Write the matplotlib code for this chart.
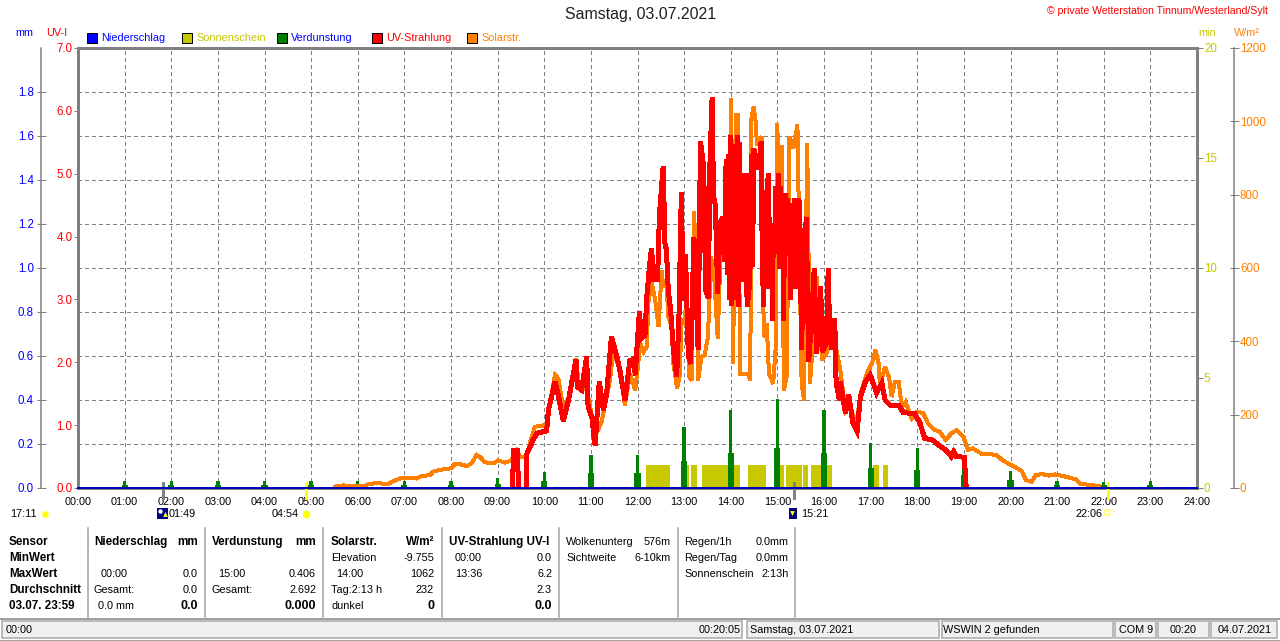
import matplotlib
matplotlib.use("Agg")
import matplotlib.pyplot as plt
from matplotlib.patches import Rectangle

plt.rcParams['font.family'] = ['Liberation Sans', 'DejaVu Sans']

W, H = 1280, 641
GREY = '#808080'
BLUE = '#0000ff'
RED = '#ff0000'
OLIVE = '#c8c800'
GREEN = '#008000'
ORANGE = '#ff8000'
FS = 7.85
FB = 8.3

hour_labels = ['%02d:00' % h for h in range(25)]
mm_ticks = [0, 0.2, 0.4, 0.6, 0.8, 1.0, 1.2, 1.4, 1.6, 1.8]
uv_ticks = [0, 1, 2, 3, 4, 5, 6, 7]
min_ticks = [0, 5, 10, 15, 20]
solar_ticks = [0, 200, 400, 600, 800, 1000, 1200]

# Solarstr. W/m2
solar_t = [5.51, 5.69, 5.90, 6.12, 6.23, 6.41, 6.66, 6.73, 6.91, 7.12, 7.26, 7.37, 7.55, 7.62,
           7.83, 8.01, 8.08, 8.19, 8.34, 8.44, 8.55, 8.62, 8.73, 8.91, 9.01, 9.16, 9.30, 9.34,
           9.41, 9.48, 9.62, 9.69, 9.80, 10.05, 10.12, 10.23, 10.30, 10.41, 10.52, 10.69, 10.73,
           10.91, 10.98, 11.09, 11.23, 11.41, 11.48, 11.62, 11.73, 11.84, 11.95, 12.0, 12.06,
           12.13, 12.2, 12.23, 12.3, 12.38, 12.45, 12.52, 12.55, 12.62, 12.66, 12.73, 12.77,
           12.85, 12.91, 12.94, 13.01, 13.05, 13.11, 13.16, 13.21, 13.26, 13.3, 13.37, 13.44,
           13.51, 13.58, 13.65, 13.72, 13.79, 13.9, 13.94, 14.01, 14.05, 14.11, 14.16, 14.2,
           14.28, 14.37, 14.42, 14.44, 14.49, 14.54, 14.56, 14.67, 14.68, 14.72, 14.77, 14.82,
           14.91, 14.96, 15.0, 15.04, 15.09, 15.14, 15.2, 15.26, 15.34, 15.43, 15.48, 15.52,
           15.57, 15.64, 15.7, 15.77, 15.84, 15.96, 16.05, 16.2, 16.35, 16.46, 16.57, 16.68,
           16.78, 16.92, 17.03, 17.1, 17.17, 17.2, 17.31, 17.4, 17.45, 17.52, 17.6, 17.67, 17.75,
           17.88, 18.0, 18.13, 18.23, 18.38, 18.48, 18.61, 18.73, 18.85, 18.99, 19.09, 19.19,
           19.37, 19.51, 19.69, 19.83, 20.0, 20.11, 20.24, 20.33, 20.45, 20.54, 20.68, 20.82,
           20.96, 21.18, 21.39, 21.5, 21.67, 21.9]
solar_w = [4, 7, 5, 4, 11, 13, 11, 17, 26, 28, 26, 33, 35, 45,
           51, 54, 65, 65, 60, 67, 90, 85, 70, 67, 75, 69, 75, 90,
           102, 85, 85, 122, 167, 172, 231, 308, 299, 217, 245, 353, 285,
           267, 226, 140, 181, 294, 376, 322, 226, 312, 267, 321, 394,
           371, 385, 503, 562, 512, 440, 594, 549, 567, 467, 440, 340,
           271, 312, 458, 449, 521, 303, 294, 753, 630, 294, 358, 362,
           412, 630, 567, 408, 676, 685, 621, 1062, 340, 1017, 1017, 312,
           312, 312, 294, 1003, 1040, 994, 935, 958, 558, 412, 449, 312,
           285, 376, 994, 603, 935, 267, 303, 958, 926, 990, 594, 285,
           240, 940, 285, 412, 576, 349, 367, 420, 322, 208, 226, 163,
           254, 313, 340, 376, 340, 281, 331, 299, 249, 290, 290, 222, 235,
           190, 208, 204, 176, 158, 154, 131, 149, 158, 140, 104, 108,
           94, 93, 90, 76, 63, 56, 47, 22, 17, 35, 38, 34,
           37, 31, 24, 11, 9, 5]

# UV-Strahlung UV-I, nan where the sensor shows nothing
nan = float('nan')
uv_t = [9.32, 9.34, 9.42, 9.45, 9.53, 9.61, 9.63, 9.76, 9.84, 10.05, 10.09, 10.23, 10.3, 10.41, 10.52,
        10.68, 10.71, 10.8, 10.91, 10.94, 11.02, 11.09, 11.18, 11.27, 11.34, 11.44, 11.52, 11.62,
        11.73, 11.84, 11.88, 11.92, 11.95, 12.0, 12.04, 12.09, 12.16, 12.2, 12.26, 12.3, 12.35,
        12.43, 12.47, 12.52, 12.55, 12.59, 12.62, 12.66, 12.71, 12.77, 12.84, 12.89, 12.94, 12.98,
        13.03, 13.09, 13.14, 13.21, 13.3, 13.35, 13.42, 13.46, 13.52, 13.55, 13.6, 13.63, 13.67,
        13.72, 13.77, 13.83, 13.87,
        13.90, 13.93, 13.95, 13.97, 14.0, 14.02, 14.05, 14.07, 14.1, 14.12, 14.15, 14.17, 14.19, 14.21,
        14.23, 14.26, 14.28, 14.31, 14.33, 14.35, 14.37, 14.39, 14.41, 14.43, 14.45, 14.47, 14.49,
        14.54, 14.6, 14.65, 14.67, 14.70, 14.72, 14.74, 14.76, 14.78, 14.8, 14.82, 14.84, 14.86,
        14.88, 14.89, 14.91, 14.94, 14.96, 14.98, 15.02, 15.04, 15.06, 15.08, 15.11, 15.13, 15.15,
        15.18, 15.2, 15.22, 15.24, 15.27, 15.28, 15.3, 15.32, 15.34, 15.36, 15.39, 15.41, 15.43,
        15.46, 15.48, 15.5, 15.52, 15.54, 15.57,
        15.62, 15.67, 15.73, 15.79, 15.84, 15.93, 15.96,
        16.05, 16.09, 16.12, 16.17, 16.23, 16.26, 16.33, 16.35, 16.46, 16.53, 16.62, 16.71, 16.78,
        16.89, 16.99, 17.13, 17.24, 17.31, 17.42, 17.6, 17.7, 17.95, 18.06, 18.16, 18.34, 18.46,
        18.62, 18.73, 18.78, 18.84, 19.01, 19.05]
uv_i = [0, 0.6, 0.6, 0, nan, 0, 0.55, 0.76, 0.87, 0.91, 1.24, 1.69, 1.48, 1.06, 1.4,
        2.04, 1.61, 1.56, 2.09, 1.29, 1.13, 0.68, 1.69, 1.24, 1.51, 2.4, 2.2, 1.88,
        1.4, 2.05, 1.93, 2.08, 1.8, 2.35, 2.8, 2.38, 2.43, 3.04, 3.55, 3.81, 3.31,
        3.31, 4.34, 4.82, 5.11, 3.89, 3.79, 3.15, 2.83, 2.2, 1.77, 2.75, 4.7, 2.99,
        3.71, 2.09, 1.98, 3.99, 2.2, 5.51, 5.11, 3.15, 3.02, 5.06, 6.21, 4.63, 4.5,
        3.1, 4.21, 4.31, 3.6,
        5.22, 3.4, 5.3, 3.0, 5.6, 2.9, 5.4, 3.1, 5.46, 3.0, 5.61, 2.89, 5.5, 3.5,
        4.9, 3.28, 5.0, 3.52, 5.0, 2.89, 5.0, 3.0, 5.0, 3.5, 5.3, 3.52, 5.4,
        5.27, 5.08, 5.51, 4.1, 2.89, 4.5, 3.3, 4.74, 3.7, 5.0, 3.18, 4.3, 3.2,
        4.2, 2.67, 3.9, 3.73, 4.79, 3.8, 5.0, 3.5, 4.8, 3.6, 4.5, 2.67, 3.8,
        4.69, 3.7, 4.6, 3.7, 4.5, 3.0, 4.4, 4.53, 3.4, 4.6, 3.18, 4.55, 3.8,
        4.61, 4.42, 3.3, 2.2, 3.0, 3.55,
        4.31, 2.01, 2.62, 3.49, 2.14, 3.2, 2.17,
        2.3, 3.49, 2.51, 2.2, 2.7, 1.67, 1.4, 1.69, 1.19, 1.48, 1.03, 0.9, 1.45,
        1.69, 1.8, 1.51, 1.67, 1.4, 1.32, 1.32, 1.2, 1.18, 1.03, 0.79, 0.76, 0.68,
        0.6, 0.5, 0.58, 0.5, 0.49, 0]

# Verdunstung mm, one spike each hour
verd_t = list(range(1, 24))
verd_peak = [.03, .03, .03, .03, .03, .03, .03, .03, .045, .073, .148, .15, .277, .355, .406,
             .355, .205, .18, .13, .077, .03, .027, .03]
verd_base = [.012, .012, .012, .012, .012, .012, .012, .012, .02, .03, .068, .068, .125, .16, .18,
             .16, .09, .08, .06, .035, .012, .012, .012]

# Sonnenschein min, start and end of the sunny stretches
sun_start = [12.18, 13.03, 13.15, 13.39, 14.36, 15.03, 15.18, 15.55, 15.72, 17.05, 17.27]
sun_end = [12.70, 13.10, 13.27, 14.20, 14.76, 15.14, 15.53, 15.65, 16.18, 17.18, 17.38]
sun_height = 1.05

rain_t = [0, 24]
rain_mm = [0, 0]

# sunrise etc. marks under the axis
event_t = [1.82, 4.90, 15.35, 22.10]
event_c = [GREY, '#ffff00', GREY, '#ffff00']

fig = plt.figure(figsize=(W / 100, H / 100), dpi=100)

rect = [78 / W, 1 - 488 / H, (1197 - 78) / W, (488 - 48) / H]
px = 0.72

ax_min = fig.add_axes(rect)
ax_mm = ax_min.twinx()
ax_sol = ax_min.twinx()
ax_uv = ax_min.twinx()
ax_rain = ax_min.twinx()

for a in (ax_mm, ax_sol, ax_uv, ax_rain):
    a.patch.set_visible(False)
    for s in a.spines.values():
        s.set_visible(False)
for s in ax_min.spines.values():
    s.set_color(GREY)
    s.set_linewidth(3 * px)

# set_position resets the ticks, so it comes first
ax_mm.spines['left'].set_visible(True)
ax_mm.spines['left'].set_position(('outward', 37 * px))
ax_mm.spines['left'].set_color(GREY)
ax_mm.spines['left'].set_linewidth(1.5 * px)
ax_sol.spines['right'].set_visible(True)
ax_sol.spines['right'].set_position(('outward', 37 * px))
ax_sol.spines['right'].set_color(GREY)
ax_sol.spines['right'].set_linewidth(1.5 * px)

ax_min.set_xlim(0, 24)
ax_min.set_ylim(0, 20)
ax_mm.set_ylim(0, 2)
ax_sol.set_ylim(0, 1200)
ax_uv.set_ylim(0, 7)
ax_rain.set_ylim(0, 2)
ax_rain.set_yticks([])

ax_min.set_xticks(range(25))
ax_min.set_xticklabels(hour_labels, fontsize=FS)
ax_min.tick_params(axis='x', length=0, pad=6.2)
for h in range(1, 24):
    ax_min.axvline(h, color=GREY, lw=1 * px, dashes=(4, 4), antialiased=False, zorder=0)
for v in mm_ticks[1:]:
    ax_mm.axhline(v, color=GREY, lw=1 * px, dashes=(4, 4), antialiased=False, zorder=0)

ax_min.yaxis.tick_right()
ax_min.set_yticks(min_ticks)
ax_min.set_yticklabels([str(v) for v in min_ticks], color=OLIVE, fontsize=FB)
ax_min.tick_params(axis='y', direction='out', length=4, width=1 * px, color=GREY, pad=1)

ax_mm.yaxis.tick_left()
ax_mm.set_yticks(mm_ticks)
ax_mm.set_yticklabels(['%.1f' % v for v in mm_ticks], color=BLUE, fontsize=FB)
ax_mm.tick_params(axis='y', direction='inout', length=9 * px, width=1 * px, color=GREY, pad=2)

ax_sol.yaxis.tick_right()
ax_sol.set_yticks(solar_ticks)
ax_sol.set_yticklabels([str(v) for v in solar_ticks], color=ORANGE, fontsize=FB)
ax_sol.tick_params(axis='y', direction='inout', length=9 * px, width=1 * px, color=GREY, pad=1)

ax_uv.yaxis.tick_left()
ax_uv.set_yticks(uv_ticks)
ax_uv.set_yticklabels(['%.1f' % v for v in uv_ticks], color=RED, fontsize=FB)
ax_uv.tick_params(axis='y', direction='out', length=3, width=1 * px, color=GREY, pad=1)

# marks, lowest first
ax_min.bar(sun_start, [sun_height] * len(sun_start),
           width=[e - s for s, e in zip(sun_start, sun_end)], align='edge',
           color=OLIVE, linewidth=0, zorder=2)
ax_mm.bar(verd_t, verd_base, width=0.13, color=GREEN, linewidth=0, zorder=2)
ax_mm.bar(verd_t, verd_peak, width=0.07, color=GREEN, linewidth=0, zorder=2)
ax_sol.plot(solar_t, solar_w, color=ORANGE, lw=3 * px, antialiased=False, solid_joinstyle='miter')
ax_uv.plot(uv_t, uv_i, color=RED, lw=4 * px, antialiased=False, solid_joinstyle='miter')
ax_rain.plot(rain_t, rain_mm, color='#0000c0', lw=2 * px, clip_on=False, antialiased=False)

# sun and moon marks
for t, c in zip(event_t, event_c):
    ax_min.plot([t, t], [-0.022, 0.012], color=c, lw=3 * px, clip_on=False,
                transform=ax_min.get_xaxis_transform(), antialiased=False, zorder=5)

# everything else is placed in pixels on an overlay
ov = fig.add_axes([0, 0, 1, 1], zorder=20)
ov.set_xlim(0, W)
ov.set_ylim(H, 0)
ov.axis('off')


def txt(x, y, s, color='black', size=FS, ha='left', weight='normal'):
    ov.text(x, y, s, color=color, fontsize=size, ha=ha, va='center', fontweight=weight)


txt(641, 15, 'Samstag, 03.07.2021', size=11.4, ha='center', color='#202020')
txt(1268, 11, '© private Wetterstation Tinnum/Westerland/Sylt', color=RED, ha='right', size=7.6)
txt(15, 33, 'mm', BLUE)
txt(46, 33, 'UV-I', RED)
txt(1198, 33, 'min', OLIVE)
txt(1234, 33, 'W/m²', ORANGE)

legend_sq = [87, 182, 277, 372, 467]
legend_txt = ['Niederschlag', 'Sonnenschein', 'Verdunstung', 'UV-Strahlung', 'Solarstr.']
legend_col = [BLUE, OLIVE, GREEN, RED, ORANGE]
legend_tc = [BLUE, OLIVE, BLUE, RED, ORANGE]
for x, s, c, tc in zip(legend_sq, legend_txt, legend_col, legend_tc):
    ov.add_patch(Rectangle((x, 33), 10, 10, facecolor=c, edgecolor='black', lw=1 * px))
    txt(x + 14, 38, s, tc)

# times under the axis
txt(10, 514, '17:11')
ov.scatter([45], [514], s=22, marker='o', color='#ffff00', linewidths=0)
ov.add_patch(Rectangle((157, 508), 11, 11, facecolor='#000080', edgecolor='none'))
ov.scatter([160], [511], s=10, color='white', linewidths=0)
ov.scatter([165], [514], s=12, marker='^', color='#ffff00', linewidths=0)
txt(169, 514, '01:49')
txt(272, 514, '04:54')
ov.scatter([306], [514], s=30, marker='o', color='#ffff00', linewidths=0)
ov.add_patch(Rectangle((789, 508), 8, 11, facecolor='#000080', edgecolor='none'))
ov.scatter([792], [513], s=12, marker='v', color='#ffff00', linewidths=0)
txt(801, 514, '15:21')
txt(1075, 514, '22:06')
ov.add_patch(Rectangle((1105, 510), 5, 5, facecolor='none', edgecolor='#ffff60', lw=1.5 * px))

# table
table_x = [88, 205, 323, 442, 559, 678, 795]
rows = [542, 558, 574, 590, 606]
for x in table_x:
    ov.plot([x, x], [528, 617], color='#a0a0a0', lw=1.5 * px)

for r, s in zip(rows, ['Sensor', 'MinWert', 'MaxWert', 'Durchschnitt', '03.07. 23:59']):
    txt(9, r, s, weight='bold', size=8.4)

txt(94, rows[0], 'Niederschlag', weight='bold', size=8.4)
txt(198, rows[0], 'mm', ha='right', weight='bold', size=8.4)
txt(101, rows[2], '00:00')
txt(198, rows[2], '0.0', ha='right')
txt(94, rows[3], 'Gesamt:')
txt(198, rows[3], '0.0', ha='right')
txt(98, rows[4], '0.0 mm')
txt(198, rows[4], '0.0', ha='right', weight='bold', size=9)

txt(212, rows[0], 'Verdunstung', weight='bold', size=8.4)
txt(316, rows[0], 'mm', ha='right', weight='bold', size=8.4)
txt(218, rows[2], '15:00')
txt(316, rows[2], '0.406', ha='right')
txt(212, rows[3], 'Gesamt:')
txt(316, rows[3], '2.692', ha='right')
txt(316, rows[4], '0.000', ha='right', weight='bold', size=9)

txt(331, rows[0], 'Solarstr.', weight='bold', size=8.4)
txt(434, rows[0], 'W/m²', ha='right', weight='bold', size=8.4)
txt(331, rows[1], 'Elevation')
txt(434, rows[1], '-9.755', ha='right')
txt(336, rows[2], '14:00')
txt(434, rows[2], '1062', ha='right')
txt(331, rows[3], 'Tag:2:13 h')
txt(434, rows[3], '232', ha='right')
txt(331, rows[4], 'dunkel')
txt(434, rows[4], '0', ha='right', weight='bold', size=9)

txt(449, rows[0], 'UV-Strahlung UV-I', weight='bold', size=8.4)
txt(455, rows[1], '00:00')
txt(552, rows[1], '0.0', ha='right')
txt(455, rows[2], '13:36')
txt(552, rows[2], '6.2', ha='right')
txt(552, rows[3], '2.3', ha='right')
txt(552, rows[4], '0.0', ha='right', weight='bold', size=9)

txt(566, rows[0], 'Wolkenunterg')
txt(671, rows[0], '576m', ha='right')
txt(566, rows[1], 'Sichtweite')
txt(671, rows[1], '6-10km', ha='right')
txt(684, rows[0], 'Regen/1h')
txt(789, rows[0], '0.0mm', ha='right')
txt(684, rows[1], 'Regen/Tag')
txt(789, rows[1], '0.0mm', ha='right')
txt(684, rows[2], 'Sonnenschein')
txt(789, rows[2], '2:13h', ha='right')

# status bar
ov.plot([0, W], [619, 619], color='#a0a0a0', lw=2 * px)
panels = [(1, 743), (746, 940), (941, 1114), (1114, 1157), (1157, 1210), (1210, 1278)]
for a, b in panels:
    ov.add_patch(Rectangle((a + 1, 621), b - a - 2, 17, facecolor='#f0f0f0', edgecolor='#a8a8a8', lw=1.5 * px))
ov.plot([0, W], [640, 640], color='#a0a0a0', lw=1 * px)
txt(6, 630, '00:00')
txt(741, 630, '00:20:05', ha='right')
txt(750, 630, 'Samstag, 03.07.2021')
txt(943, 630, 'WSWIN 2 gefunden')
txt(1119, 630, 'COM 9')
txt(1170, 630, '00:20')
txt(1218, 630, '04.07.2021')
ov.set_xlim(0, W)
ov.set_ylim(H, 0)

fig.savefig('out.png', dpi=100)
